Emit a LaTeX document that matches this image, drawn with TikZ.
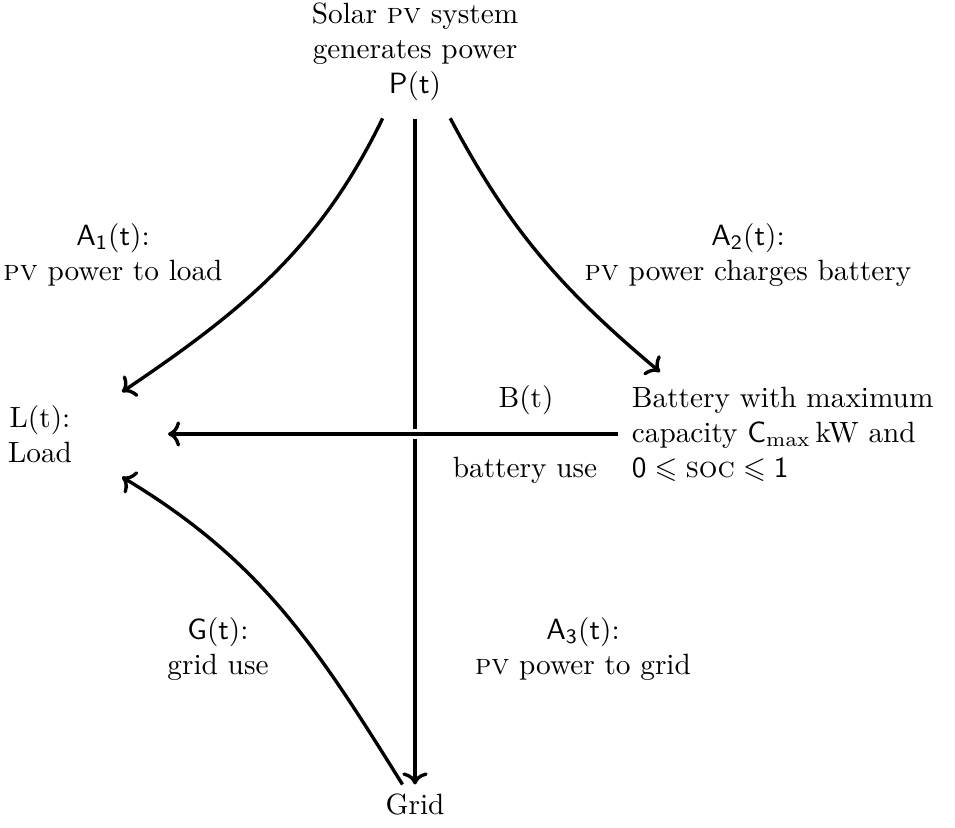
\documentclass[tikz,border=0pt]{standalone}
\usepackage{amsmath,amssymb}
\usepackage{tikz}
\usetikzlibrary{arrows.meta,positioning,calc}

\begin{document}
\begin{tikzpicture}[
  txt/.style={align=center, inner sep=3pt},
  flow/.style={->, line width=1.15pt, color=black},
  over/.style={preaction={draw=white, line width=3.4pt}}
]
\useasboundingbox (0,0) rectangle (11.46,9.924);

% the sources and sinks
\node[txt] (src) at (4.98,9.30) {Solar \textsc{pv} system\\generates power\\$\mathsf{P}(\mathsf{t})$};
\node[txt] (load) at (0.48,4.716) {L(t):\\Load};
\node[txt, align=left, anchor=west] (batt) at (7.47,4.716) {Battery with maximum\\capacity $\mathsf{C}_{\max}$\,kW and\\$\mathsf{0}\leqslant\text{\textsc{soc}}\leqslant\mathsf{1}$};
\node[txt] (grid) at (4.98,0.27) {Grid};

% free ends of the connectors near the load
\coordinate (loadA) at (1.464,5.22);
\coordinate (loadB) at (2.016,4.716);
\coordinate (loadG) at (1.464,4.20);
\coordinate (battA) at (7.92,5.46);

% labels of the flows
\node[txt] (lblA1) at (1.356,6.864) {$\mathsf{A_1}(\mathsf{t})$:\\\textsc{pv} power to load};
\node[txt] (lblA2) at (8.976,6.864) {$\mathsf{A_2}(\mathsf{t})$:\\\textsc{pv} power charges battery};
\node[txt] (lblB) at (6.312,5.124) {B(t)};
\node[txt] (lblUse) at (6.30,4.284) {battery use};
\node[txt] (lblG) at (2.616,2.136) {$\mathsf{G}(\mathsf{t})$:\\grid use};
\node[txt] (lblA3) at (6.996,2.136) {$\mathsf{A_3}(\mathsf{t})$:\\\textsc{pv} power to grid};

\draw[flow, shorten <=3pt] (src) to[out=-116, in=34] (loadA);
\draw[flow, shorten <=3pt] (src) to[out=-62, in=140] (battA);
\draw[flow, shorten <=3pt] (src.south) -- (grid.north);
\draw[flow, over, shorten <=1.5pt] (batt.west) -- (loadB);
\draw[flow] (grid) to[out=122, in=-31] (loadG);
\end{tikzpicture}
\end{document}
